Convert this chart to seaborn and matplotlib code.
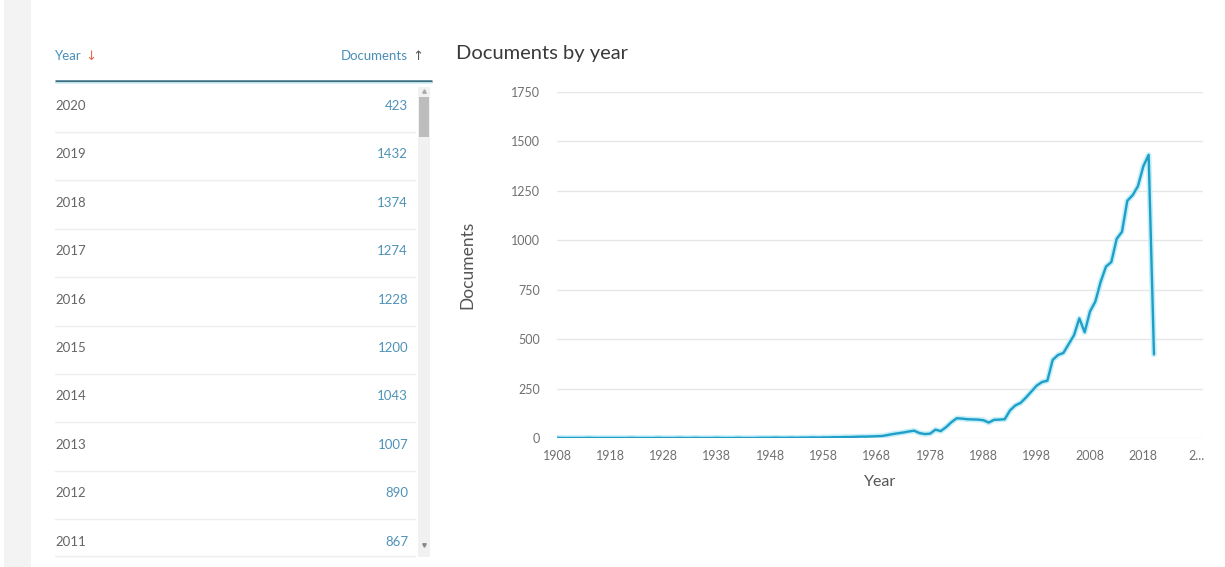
import numpy as np
import pandas as pd
import matplotlib
matplotlib.use('Agg')
import matplotlib.pyplot as plt
from matplotlib.patches import Rectangle
import seaborn as sns

# ==================== DATA ====================
years = [
    1908, 1909, 1910, 1911, 1912, 1913, 1914, 1915, 1916, 1917, 1918, 1919,
    1920, 1921, 1922, 1923, 1924, 1925, 1926, 1927, 1928, 1929,
    1930, 1931, 1932, 1933, 1934, 1935, 1936, 1937, 1938, 1939,
    1940, 1941, 1942, 1943, 1944, 1945, 1946, 1947, 1948, 1949,
    1950, 1951, 1952, 1953, 1954, 1955, 1956, 1957, 1958, 1959,
    1960, 1961, 1962, 1963, 1964, 1965, 1966, 1967, 1968, 1969,
    1970, 1971, 1972, 1973, 1974, 1975, 1976, 1977, 1978, 1979,
    1980, 1981, 1982, 1983, 1984, 1985, 1986, 1987, 1988, 1989,
    1990, 1991, 1992, 1993, 1994, 1995, 1996, 1997, 1998, 1999,
    2000, 2001, 2002, 2003, 2004, 2005, 2006, 2007, 2008, 2009,
    2010, 2011, 2012, 2013, 2014, 2015, 2016, 2017, 2018, 2019, 2020,
]
documents = [
    1, 0, 0, 0, 0, 0, 1, 0, 0, 0, 0, 0,
    0, 0, 1, 0, 0, 0, 0, 1, 0, 0,
    0, 1, 0, 0, 1, 0, 0, 0, 1, 0,
    0, 0, 1, 0, 0, 0, 1, 1, 1, 2,
    1, 1, 2, 1, 2, 2, 3, 2, 3, 3,
    4, 4, 5, 5, 6, 7, 7, 8, 9, 10,
    15, 20, 24, 28, 33, 37, 25, 20, 22, 42,
    35, 55, 80, 100, 98, 95, 94, 93, 90, 78,
    92, 93, 95, 140, 165, 178, 205, 235, 265, 283,
    290, 395, 420, 430, 475, 520, 605, 535, 640, 690,
    790, 867, 890, 1007, 1043, 1200, 1228, 1274, 1374, 1432, 423,
]

x_ticks = [1908, 1918, 1928, 1938, 1948, 1958, 1968, 1978, 1988, 1998, 2008, 2018, 2028]
x_tick_labels = ['1908', '1918', '1928', '1938', '1948', '1958', '1968', '1978',
                 '1988', '1998', '2008', '2018', '2...']
y_ticks = [0, 250, 500, 750, 1000, 1250, 1500, 1750]

df = pd.DataFrame({'Year': years, 'Documents': documents})
table_rows = df.sort_values('Year', ascending=False).head(10)

# ==================== STYLE ====================
sns.set_theme(style='white')
plt.rcParams['font.family'] = ['Lato', 'DejaVu Sans']

W, H = 1225, 567
fig = plt.figure(figsize=(W / 100, H / 100), dpi=100)
fig.patch.set_facecolor('white')

# pixel-space overlay for the table part of the page
page = fig.add_axes([0, 0, 1, 1])
page.set_xlim(0, W)
page.set_ylim(H, 0)
page.axis('off')

page.add_patch(Rectangle((4, 0), 27, H, color='#f3f3f3', lw=0))

# ==================== TABLE ====================
teal = '#4a8fb6'
page.text(55, 56, 'Year', color=teal, fontsize=9.5, va='center', ha='left')
page.text(85, 57, '↓', color='#e8674f', fontsize=9.5, va='center', ha='left',
          family=['DejaVu Sans'])
page.text(408, 56, 'Documents', color=teal, fontsize=9.5, va='center', ha='right')
page.text(423, 57, '↑', color='#555555', fontsize=9.5, va='center', ha='right',
          family=['DejaVu Sans'])
page.plot([55, 432], [81, 81], color='#3b6f82', lw=1.8, solid_capstyle='butt')
page.plot([55, 432], [83, 83], color='#cfeef7', lw=1.2, solid_capstyle='butt')

row_h = 48.4
for i, (yr, n) in enumerate(zip(table_rows['Year'], table_rows['Documents'])):
    yc = 106 + i * row_h
    page.text(55, yc, str(yr), color='#666666', fontsize=9.5, va='center', ha='left')
    page.text(408, yc, str(n), color='#4f93b8', fontsize=9.5, va='center', ha='right')
    if i < len(table_rows) - 1:
        page.plot([55, 415], [yc + 26, yc + 26], color='#eeeeee', lw=1)
    else:
        page.plot([55, 415], [yc + 14, yc + 14], color='#eeeeee', lw=1)

# scrollbar
page.add_patch(Rectangle((418, 87), 12, 470, color='#f1f1f1', lw=0))
page.add_patch(Rectangle((419, 97), 10, 40, color='#bdbdbd', lw=0))
page.plot([424], [91], marker='^', ms=2.5, color='#aaaaaa')
page.plot([424], [545], marker='v', ms=2.5, color='#888888')

# ==================== LINE CHART ====================
ax_l, ax_r, ax_t, ax_b = 557, 1203, 92, 438
ax = fig.add_axes([ax_l / W, 1 - ax_b / H, (ax_r - ax_l) / W, (ax_b - ax_t) / H])
ax.set_facecolor('white')

line_color = '#1f9ec8'
sns.lineplot(data=df, x='Year', y='Documents', ax=ax, color='#c4eff8', lw=4, zorder=2)
sns.lineplot(data=df, x='Year', y='Documents', ax=ax, color=line_color, lw=1.7, zorder=3)

ax.set_xlim(1908, 2029.2)
ax.set_ylim(0, 1750)
ax.set_xticks(x_ticks)
ax.set_xticklabels(x_tick_labels)
ax.set_yticks(y_ticks)
ax.grid(axis='y', color='#e6e6e6', lw=1)
ax.grid(axis='x', visible=False)
for s in ax.spines.values():
    s.set_visible(False)
ax.tick_params(axis='both', length=0, labelsize=9, labelcolor='#707070')
ax.tick_params(axis='y', pad=12)
ax.tick_params(axis='x', pad=9)

ax.set_xlabel('Year', fontsize=11.5, color='#555555', labelpad=9)
ax.set_ylabel('')
fig.text(467 / W, 1 - 265 / H, 'Documents', rotation=90, fontsize=12.5,
         color='#555555', ha='center', va='center')
fig.text(456 / W, 1 - 53 / H, 'Documents by year', fontsize=14.5, color='#3a3a3a',
         ha='left', va='center')

fig.savefig('out.png', dpi=100)
